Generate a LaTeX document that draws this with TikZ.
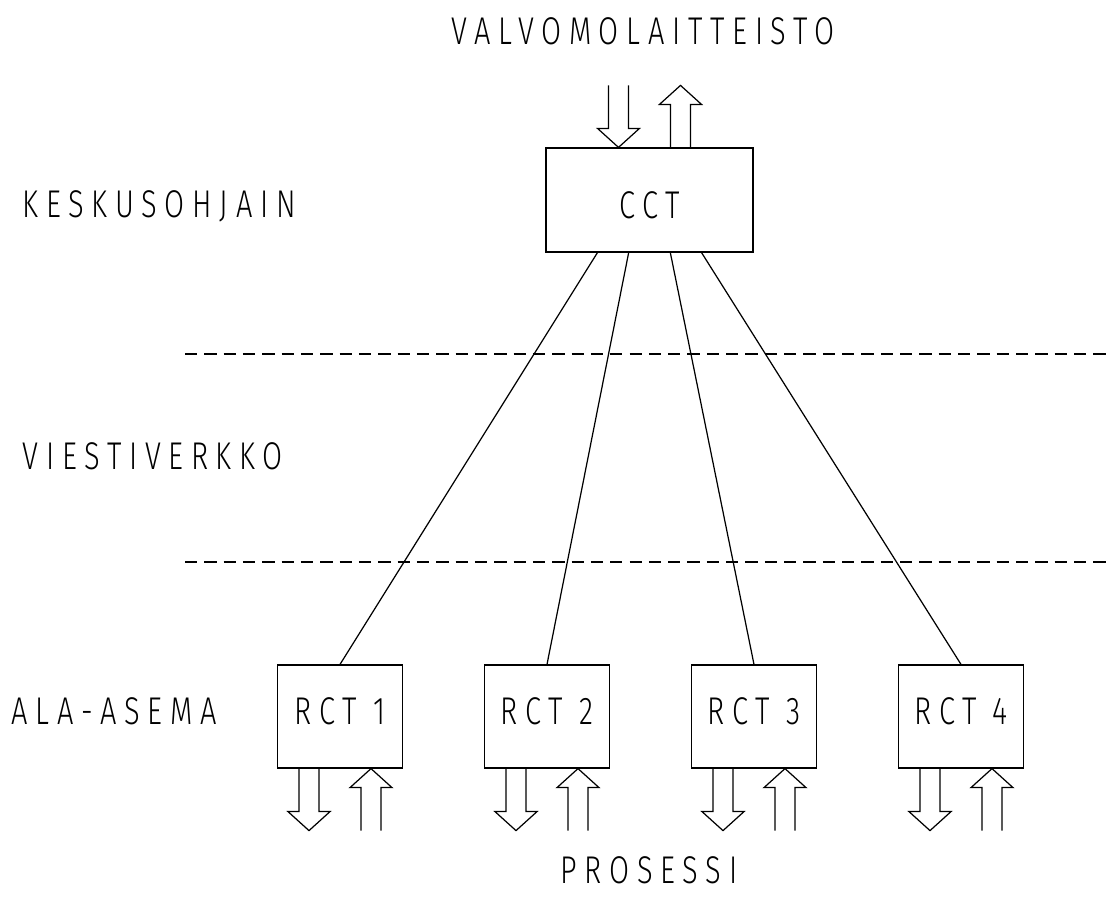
\documentclass[tikz,border=0pt]{standalone}
\usepackage{fontspec}
\setmainfont{Fira Sans Light}[FakeStretch=0.75, LetterSpace=20]
\usetikzlibrary{calc}

\begin{document}
\begin{tikzpicture}[
    x=0.02cm, y=-0.02cm, line width=0.7pt,
    unit/.style={rectangle, draw, minimum width=2.5cm, minimum height=2.06cm, inner sep=0pt, font=\fontsize{22}{26}\selectfont},
    layer/.style={inner sep=0pt, font=\fontsize{22}{26}\selectfont},
    sep/.style={dash pattern=on 7pt off 4pt},
    feedin/.pic={\draw (-10,-62) -- (-10,-19) -- (-21,-19) -- (0,0) -- (21,-19) -- (10,-19) -- (10,-62);},
    feedout/.pic={\draw (-10,62) -- (-10,19) -- (-21,19) -- (0,0) -- (21,19) -- (10,19) -- (10,62);}
]
\useasboundingbox (0,0) rectangle (1106,903);

% Central unit
\node[unit, minimum width=4.14cm, minimum height=2.08cm, text height=0.73cm] (cct) at (649.5,200) {CCT};
\node[layer] (top) at (643,31) {VALVOMOLAITTEISTO};
\pic at ($(cct.north)+(-31,0)$) {feedin};
\pic at ($(cct.north)+(31,-62)$) {feedout};

% Layers
\node[layer, anchor=west] (keskus) at (22,206) {KESKUSOHJAIN};
\node[layer, anchor=west] (viesti) at (22,456) {VIESTIVERKKO};
\node[layer, anchor=west] (ala) at (11,711) {ALA-ASEMA};
\node[layer] (prosessi) at (649,870) {PROSESSI};

\coordinate (d1a) at (185,354);
\coordinate (d1b) at (1106,354);
\coordinate (d2a) at (185,562);
\coordinate (d2b) at (1106,562);
\draw[sep] (d1a) -- (d1b);
\draw[sep] (d2a) -- (d2b);

% Substations
\foreach \i/\f in {1/0.25, 2/0.4, 3/0.6, 4/0.75} {
  \node[unit, text depth=0.2cm] (rct\i) at ({340+207*(\i-1)},716.5) {RCT \i};
  \pic at ($(rct\i.south)+(-31,62)$) {feedin};
  \pic at ($(rct\i.south)+(31,0)$) {feedout};
  \draw ($(cct.south west)!\f!(cct.south east)$) -- (rct\i.north);
}

\end{tikzpicture}
\end{document}
